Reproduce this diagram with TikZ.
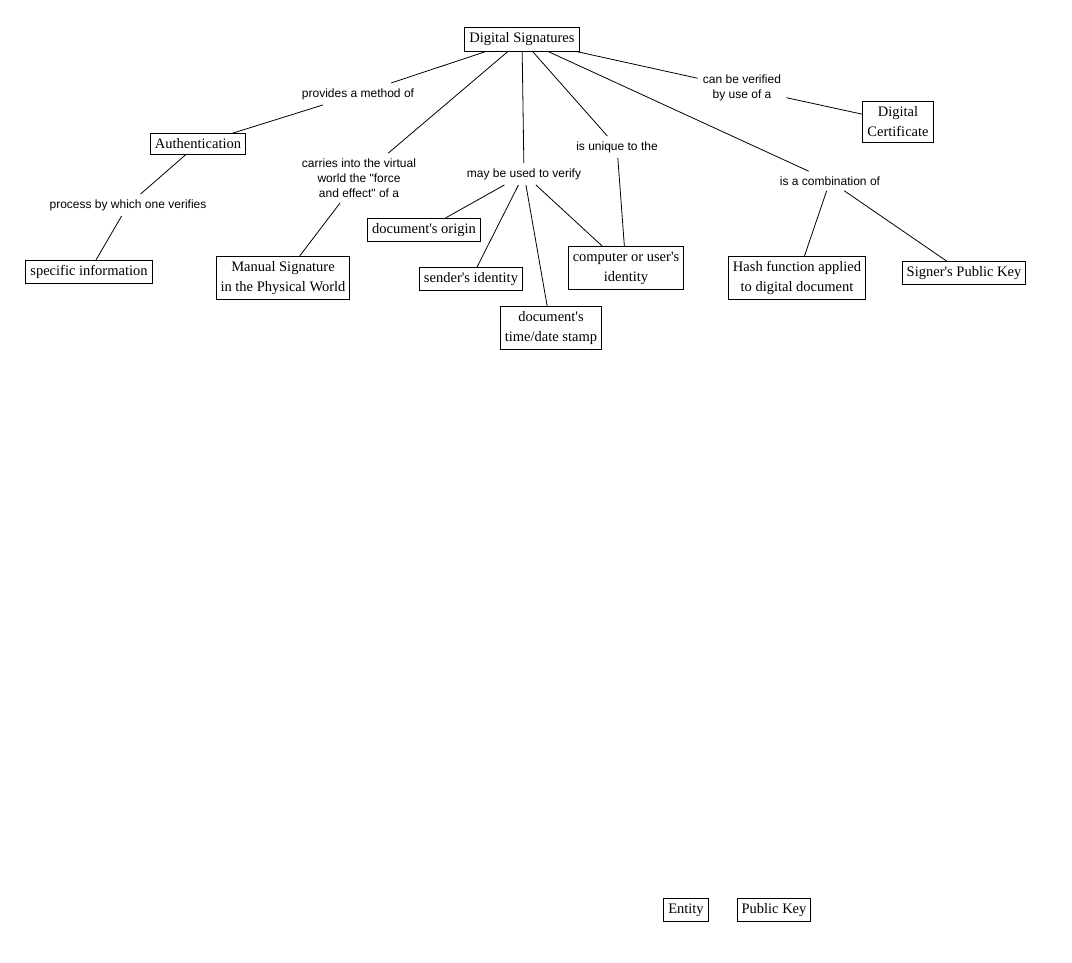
\documentclass[tikz,border=0pt]{standalone}
\usepackage{fontspec}
\setmainfont{Liberation Serif}[Ligatures=TeXOff]
\newfontfamily\linkfont{Liberation Sans}[Ligatures=TeXOff]

\begin{document}
\begin{tikzpicture}[x=1pt,y=-1pt, line width=0.8pt, c/.style={draw,line width=0.9pt,align=center,inner xsep=4.5pt,inner ysep=5pt,font=\fontsize{14.5}{20}\selectfont}, l/.style={align=center,inner sep=5pt,font=\linkfont\fontsize{12}{15}\selectfont}]
\useasboundingbox (0,0) rectangle (1072,963);
% concepts
\node[c] (ds) at (522,39.5) {Digital Signatures};
\node[c] (auth) at (198,144) {Authentication};
\node[c] (spec) at (89,272) {specific information};
\node[c] (man) at (283,278) {Manual Signature\\in the Physical World};
\node[c] (orig) at (424,230) {document's origin};
\node[c] (send) at (471,279) {sender's identity};
\node[c] (stamp) at (551,328) {document's\\time/date stamp};
\node[c] (comp) at (626,268) {computer or user's\\identity};
\node[c] (cert) at (898,122) {Digital\\Certificate};
\node[c] (hash) at (797,278) {Hash function applied\\to digital document};
\node[c] (key) at (964,273) {Signer's Public Key};
\node[c] (ent) at (686,910) {Entity};
\node[c] (pk) at (774,910) {Public Key};
% linking phrases
\node[l] (prov) at (358,94) {provides a method of};
\node[l] (proc) at (128,205) {process by which one verifies};
\node[l] (carr) at (359,178) {carries into the virtual\\world the "force\\and effect" of a};
\node[l] (may) at (524,174) {may be used to verify};
\node[l] (uniq) at (617,147) {is unique to the};
\node[l] (comb) at (830,181) {is a combination of};
\node[l] (ver) at (742,88) {can be verified\\by use of a};
% links
\draw (ds) -- (prov) -- (auth);
\draw (auth) -- (proc) -- (spec);
\draw (ds) -- (carr) -- (man);
\draw (ds) -- (may);
\draw (may) -- (orig);
\draw (may) -- (send);
\draw (may) -- (stamp);
\draw (may) -- (comp);
\draw (ds) -- (uniq) -- (comp);
\draw (ds) -- (comb);
\draw (comb) -- (hash);
\draw (comb) -- (key);
\draw (ds) -- (ver) -- (cert);
\end{tikzpicture}
\end{document}
